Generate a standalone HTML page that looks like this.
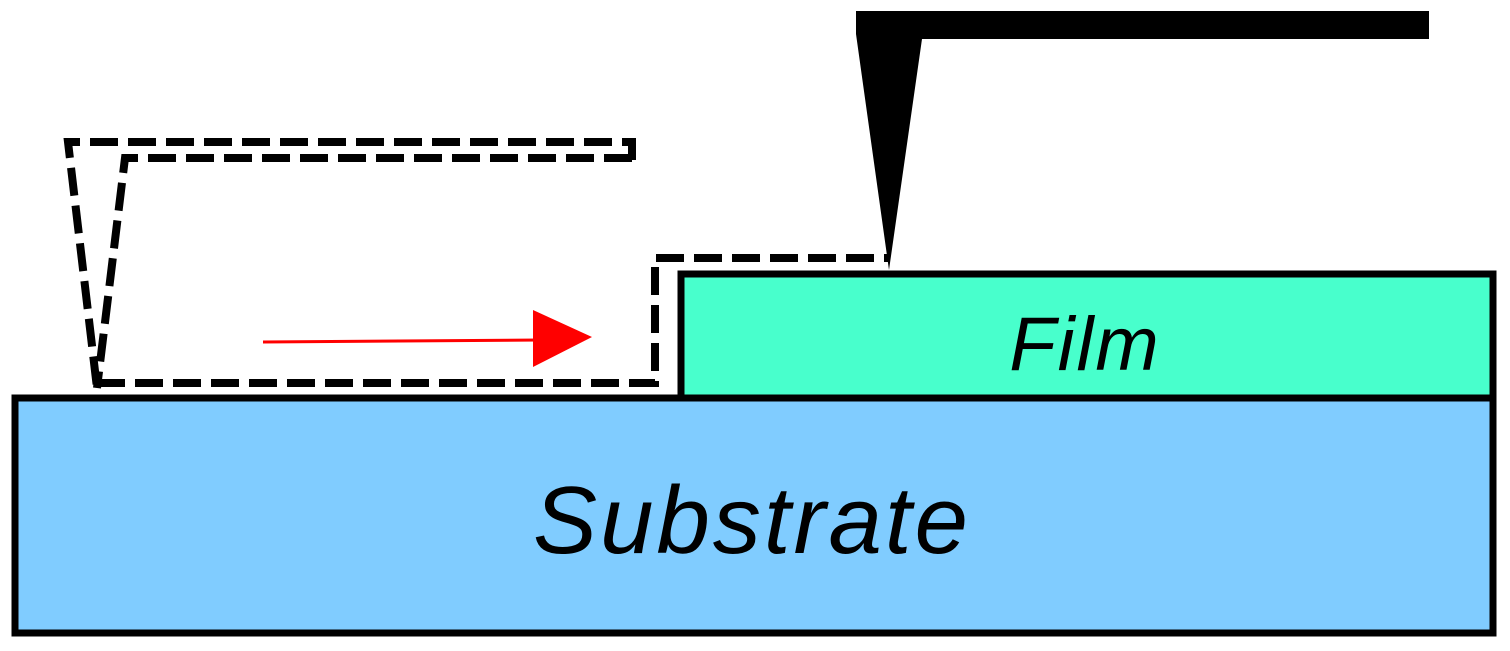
<!DOCTYPE html>
<html><head><style>body{margin:0;background:#fff}svg{display:block}</style></head>
<body>
<svg width="1510" height="651" viewBox="0 0 1510 651" xmlns="http://www.w3.org/2000/svg">
<rect x="15" y="398" width="1478" height="235" fill="#80CCFF" stroke="#000" stroke-width="7"/>
<rect x="681" y="274" width="812" height="124" fill="#48FFCC" stroke="#000" stroke-width="7"/>
<text x="1085" y="370" font-family="Liberation Sans, sans-serif" font-style="italic" font-size="76" text-anchor="middle" letter-spacing="2">Film</text>
<text x="752" y="553" font-family="Liberation Sans, sans-serif" font-style="italic" font-size="96" text-anchor="middle" letter-spacing="3">Substrate</text>
<polygon points="856,11 1429,11 1429,39 922,39 889,270 856,34" fill="#000"/>
<g fill="none" stroke="#000" stroke-width="8" stroke-dasharray="28,10">
<polyline points="632,160 632,142 68,142 97,388"/>
<polyline points="632,158 125,158 97,388"/>
<polyline points="97,383 655,383 655,258 889,258"/>
</g>
<line x1="263" y1="342" x2="540" y2="340" stroke="#f00" stroke-width="3"/>
<polygon points="533,310 592,337 533,367" fill="#f00"/>
</svg>
</body></html>
